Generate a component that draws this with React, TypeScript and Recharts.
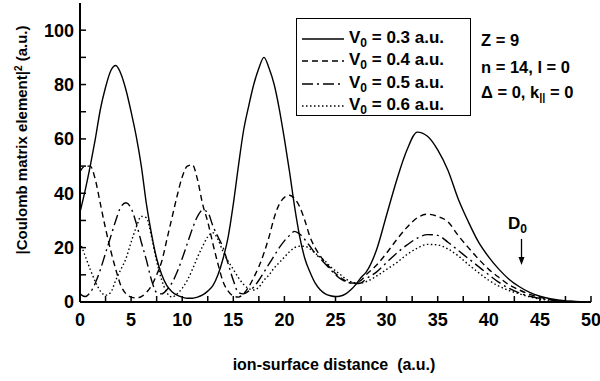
import { LineChart, Line, XAxis, YAxis, ReferenceLine } from 'recharts';

// ion-surface distance (a.u.)
const xs = [
  0, 0.5, 1, 1.5, 2, 2.5, 3, 3.5, 4, 4.5,
  5, 5.5, 6, 6.5, 7, 7.5, 8, 8.5, 9, 9.5,
  10, 10.5, 11, 11.5, 12, 12.5, 13, 13.5, 14, 14.5,
  15, 15.5, 16, 16.5, 17, 17.5, 18, 18.5, 19, 19.5,
  20, 20.5, 21, 21.5, 22, 22.5, 23, 23.5, 24, 24.5,
  25, 25.5, 26, 26.5, 27, 27.5, 28,
  29, 30, 31, 32, 33, 34, 35, 36, 37, 38, 39, 40, 41, 42, 43, 44, 45, 46, 47, 48, 49, 50,
];

// |Coulomb matrix element|^2, V0 = 0.3 a.u.
const v03 = [
  33, 41, 50, 60, 71, 79, 85, 87, 84, 78,
  70, 61, 50, 36, 25, 16, 10, 6, 3.8, 2.5,
  1.8, 1.4, 1.4, 1.8, 2.6, 4, 6, 10, 16, 24,
  36, 50, 63, 72, 80, 86, 90, 86, 80, 71,
  60, 48, 35, 24, 16, 11, 7, 4.5, 3, 2.3,
  2, 2.2, 3, 4.5, 6.5, 9, 11,
  19, 32, 45, 56, 62.5, 61, 56, 48.5, 38, 29.5, 22, 16.5, 12, 8.3, 5.6, 3.5, 2.1, 1.2, 0.7, 0.3, 0.1, 0,
];

// V0 = 0.4 a.u.
const v04 = [
  48, 50, 50, 45, 36, 27, 19, 12, 6, 3,
  1.8, 1.5, 2, 3.5, 6, 10, 15, 23, 31, 39,
  46, 50, 50.5, 45, 36, 29.5, 21.5, 14, 7.5, 4,
  2.2, 1.8, 3, 5.5, 9, 13, 18, 24, 31, 36,
  38.5, 39.3, 38, 35, 30, 24, 20, 17, 14.5, 12.5,
  10.5, 9, 7.8, 7, 7, 8, 10,
  13.5, 18, 23, 27.5, 31, 32.3, 31.5, 29.5, 24.5, 20, 15.8, 12, 9, 6.3, 4.4, 2.8, 1.7, 0.9, 0.4, 0.2, 0.1, 0,
];

// V0 = 0.5 a.u.
const v05 = [
  3, 2, 3.5, 7, 12, 18, 24, 30, 35, 36.5,
  34.5, 29, 22, 15.4, 8, 3.5, 3, 4.5, 7, 11,
  16, 21.5, 27, 31.5, 33.8, 33, 28, 24, 20, 14,
  8, 3.5, 3, 4, 5.5, 8, 11, 14, 17, 20,
  22.5, 24.5, 26, 25, 23, 20.5, 18, 16, 14, 12,
  10, 8.5, 7.5, 7, 6.8, 7, 8.5,
  11, 14.5, 18, 21, 23.5, 24.8, 24.5, 22, 19, 16, 13, 10, 7.2, 5, 3.3, 2.1, 1.3, 0.8, 0.4, 0.2, 0.1, 0,
];

// V0 = 0.6 a.u.
const v06 = [
  22, 17, 12, 7.5, 4, 2.5, 3.5, 8, 12, 16,
  22, 27.5, 31.5, 31, 24, 15, 8, 3.5, 1.8, 3,
  5, 8, 12, 16.5, 20.5, 24, 25.5, 23, 18.5, 15,
  12, 9, 6.5, 5, 4.4, 5.5, 8, 10, 12.5, 14.5,
  16.5, 18.5, 20, 20.5, 20.5, 19.5, 18, 16.5, 15, 13,
  11.5, 10, 8.5, 7.5, 7, 7, 7.5,
  9.5, 12, 14.5, 17.5, 19.8, 21.2, 21, 19.5, 17, 13.8, 10.8, 8, 5.8, 4.2, 3, 1.9, 1.1, 0.6, 0.3, 0.1, 0, 0,
];

const velocities = ['0.3', '0.4', '0.5', '0.6'];
const xTicks = [0, 2.5, 5, 7.5, 10, 12.5, 15, 17.5, 20, 22.5, 25, 27.5, 30, 32.5, 35, 37.5, 40, 42.5, 45, 47.5, 50];
const yTicks = [0, 10, 20, 30, 40, 50, 60, 70, 80, 90, 100];

const data = xs.map((x, i) => ({ x, v03: v03[i], v04: v04[i], v05: v05[i], v06: v06[i] }));

const seriesKeys = ['v03', 'v04', 'v05', 'v06'];
const dashes = ['', '6 4', '11 4 2 4', '1.5 2.5'];

const FONT = '"Liberation Sans", Arial, sans-serif';
const tickStyle = { fill: '#000', fontSize: 18, fontWeight: 'bold', fontFamily: FONT };
const axisLine = { stroke: '#000', strokeWidth: 2 };
const tickLine = { stroke: '#000', strokeWidth: 1.5 };

const Arrow = (p: any) => (
  <g>
    <line x1={p.x1} y1={p.y1} x2={p.x2} y2={p.y2 - 6} stroke="#000" strokeWidth={1.3} />
    <polygon points={`${p.x2 - 3},${p.y2 - 8} ${p.x2 + 3},${p.y2 - 8} ${p.x2},${p.y2}`} fill="#000" />
  </g>
);

const textBase: any = { position: 'absolute', fontFamily: FONT, fontWeight: 'bold', color: '#000', whiteSpace: 'pre', lineHeight: 1 };

export default function App() {
  return (
    <div style={{ position: 'relative', width: 600, height: 381, background: '#fff' }}>
      <style>{'body{margin:0}'}</style>
      <LineChart width={600} height={381} data={data} margin={{ top: 3, right: 9, left: 0, bottom: 0 }}>
        <XAxis
          dataKey="x"
          type="number"
          domain={[0, 50]}
          ticks={xTicks}
          height={79}
          axisLine={axisLine}
          tickLine={tickLine}
          tickSize={-6}
          tickMargin={17}
          tick={tickStyle}
          tickFormatter={(v: number) => (v % 5 === 0 ? String(v) : '')}
          interval={0}
        />
        <XAxis
          xAxisId="top"
          orientation="top"
          dataKey="x"
          type="number"
          domain={[0, 50]}
          ticks={xTicks}
          height={0}
          axisLine={axisLine}
          tickLine={tickLine}
          tickSize={-6}
          tick={tickStyle}
          tickFormatter={() => ''}
          interval={0}
        />
        <YAxis
          type="number"
          domain={[0, 110]}
          ticks={yTicks}
          width={80}
          axisLine={axisLine}
          tickLine={tickLine}
          tickSize={-6}
          tickMargin={12}
          tick={tickStyle}
          tickFormatter={(v: number) => (v % 20 === 0 ? String(v) : '')}
          interval={0}
        />
        <YAxis
          yAxisId="right"
          orientation="right"
          type="number"
          domain={[0, 110]}
          ticks={yTicks}
          width={0}
          axisLine={axisLine}
          tickLine={tickLine}
          tickSize={-6}
          tick={tickStyle}
          tickFormatter={() => ''}
          interval={0}
        />
        {seriesKeys.map((k, i) => (
          <Line
            key={k}
            type="monotone"
            dataKey={k}
            stroke="#000"
            strokeWidth={1.4}
            strokeDasharray={dashes[i] || undefined}
            dot={false}
            activeDot={false}
            isAnimationActive={false}
          />
        ))}
        <ReferenceLine segment={[{ x: 43.2, y: 23.2 }, { x: 43.2, y: 13.6 }]} shape={Arrow} />
      </LineChart>

      {/* legend */}
      <div style={{ position: 'absolute', left: 296, top: 18, width: 173, height: 96, border: '1.5px solid #000' }}>
        {velocities.map((v, i) => (
          <div key={v} style={{ position: 'absolute', left: 5, top: 10 + i * 22.3, height: 20, display: 'flex', alignItems: 'center' }}>
            <svg width={42} height={6} style={{ marginRight: 5 }}>
              <line x1={0} y1={3} x2={42} y2={3} stroke="#000" strokeWidth={1.4} strokeDasharray={dashes[i] || undefined} />
            </svg>
            <span style={{ fontFamily: FONT, fontWeight: 'bold', fontSize: 17, whiteSpace: 'pre' }}>
              V<sub style={{ fontSize: 12, verticalAlign: -4 }}>0</sub> = {v} a.u.
            </span>
          </div>
        ))}
      </div>

      {/* parameters */}
      <div style={{ ...textBase, left: 481, top: 32, fontSize: 16.5 }}>Z = 9</div>
      <div style={{ ...textBase, left: 481, top: 59, fontSize: 16.5 }}>n = 14, l = 0</div>
      <div style={{ ...textBase, left: 481, top: 84, fontSize: 16.5 }}>
        Δ = 0, k<sub style={{ fontSize: 11, verticalAlign: -3 }}>||</sub> = 0
      </div>

      <div style={{ ...textBase, left: 508, top: 215, fontSize: 17 }}>
        D<sub style={{ fontSize: 12, verticalAlign: -4 }}>0</sub>
      </div>

      {/* axis titles */}
      <div style={{ ...textBase, left: 334, top: 357, fontSize: 16, transform: 'translateX(-50%)' }}>
        ion-surface distance  (a.u.)
      </div>
      <div
        style={{
          ...textBase,
          left: 21,
          top: 140,
          fontSize: 15,
          transform: 'translate(-50%, -50%) rotate(-90deg)',
        }}
      >
        |Coulomb matrix element|<sup style={{ fontSize: 10, verticalAlign: 5 }}>2</sup> (a.u.)
      </div>
    </div>
  );
}
